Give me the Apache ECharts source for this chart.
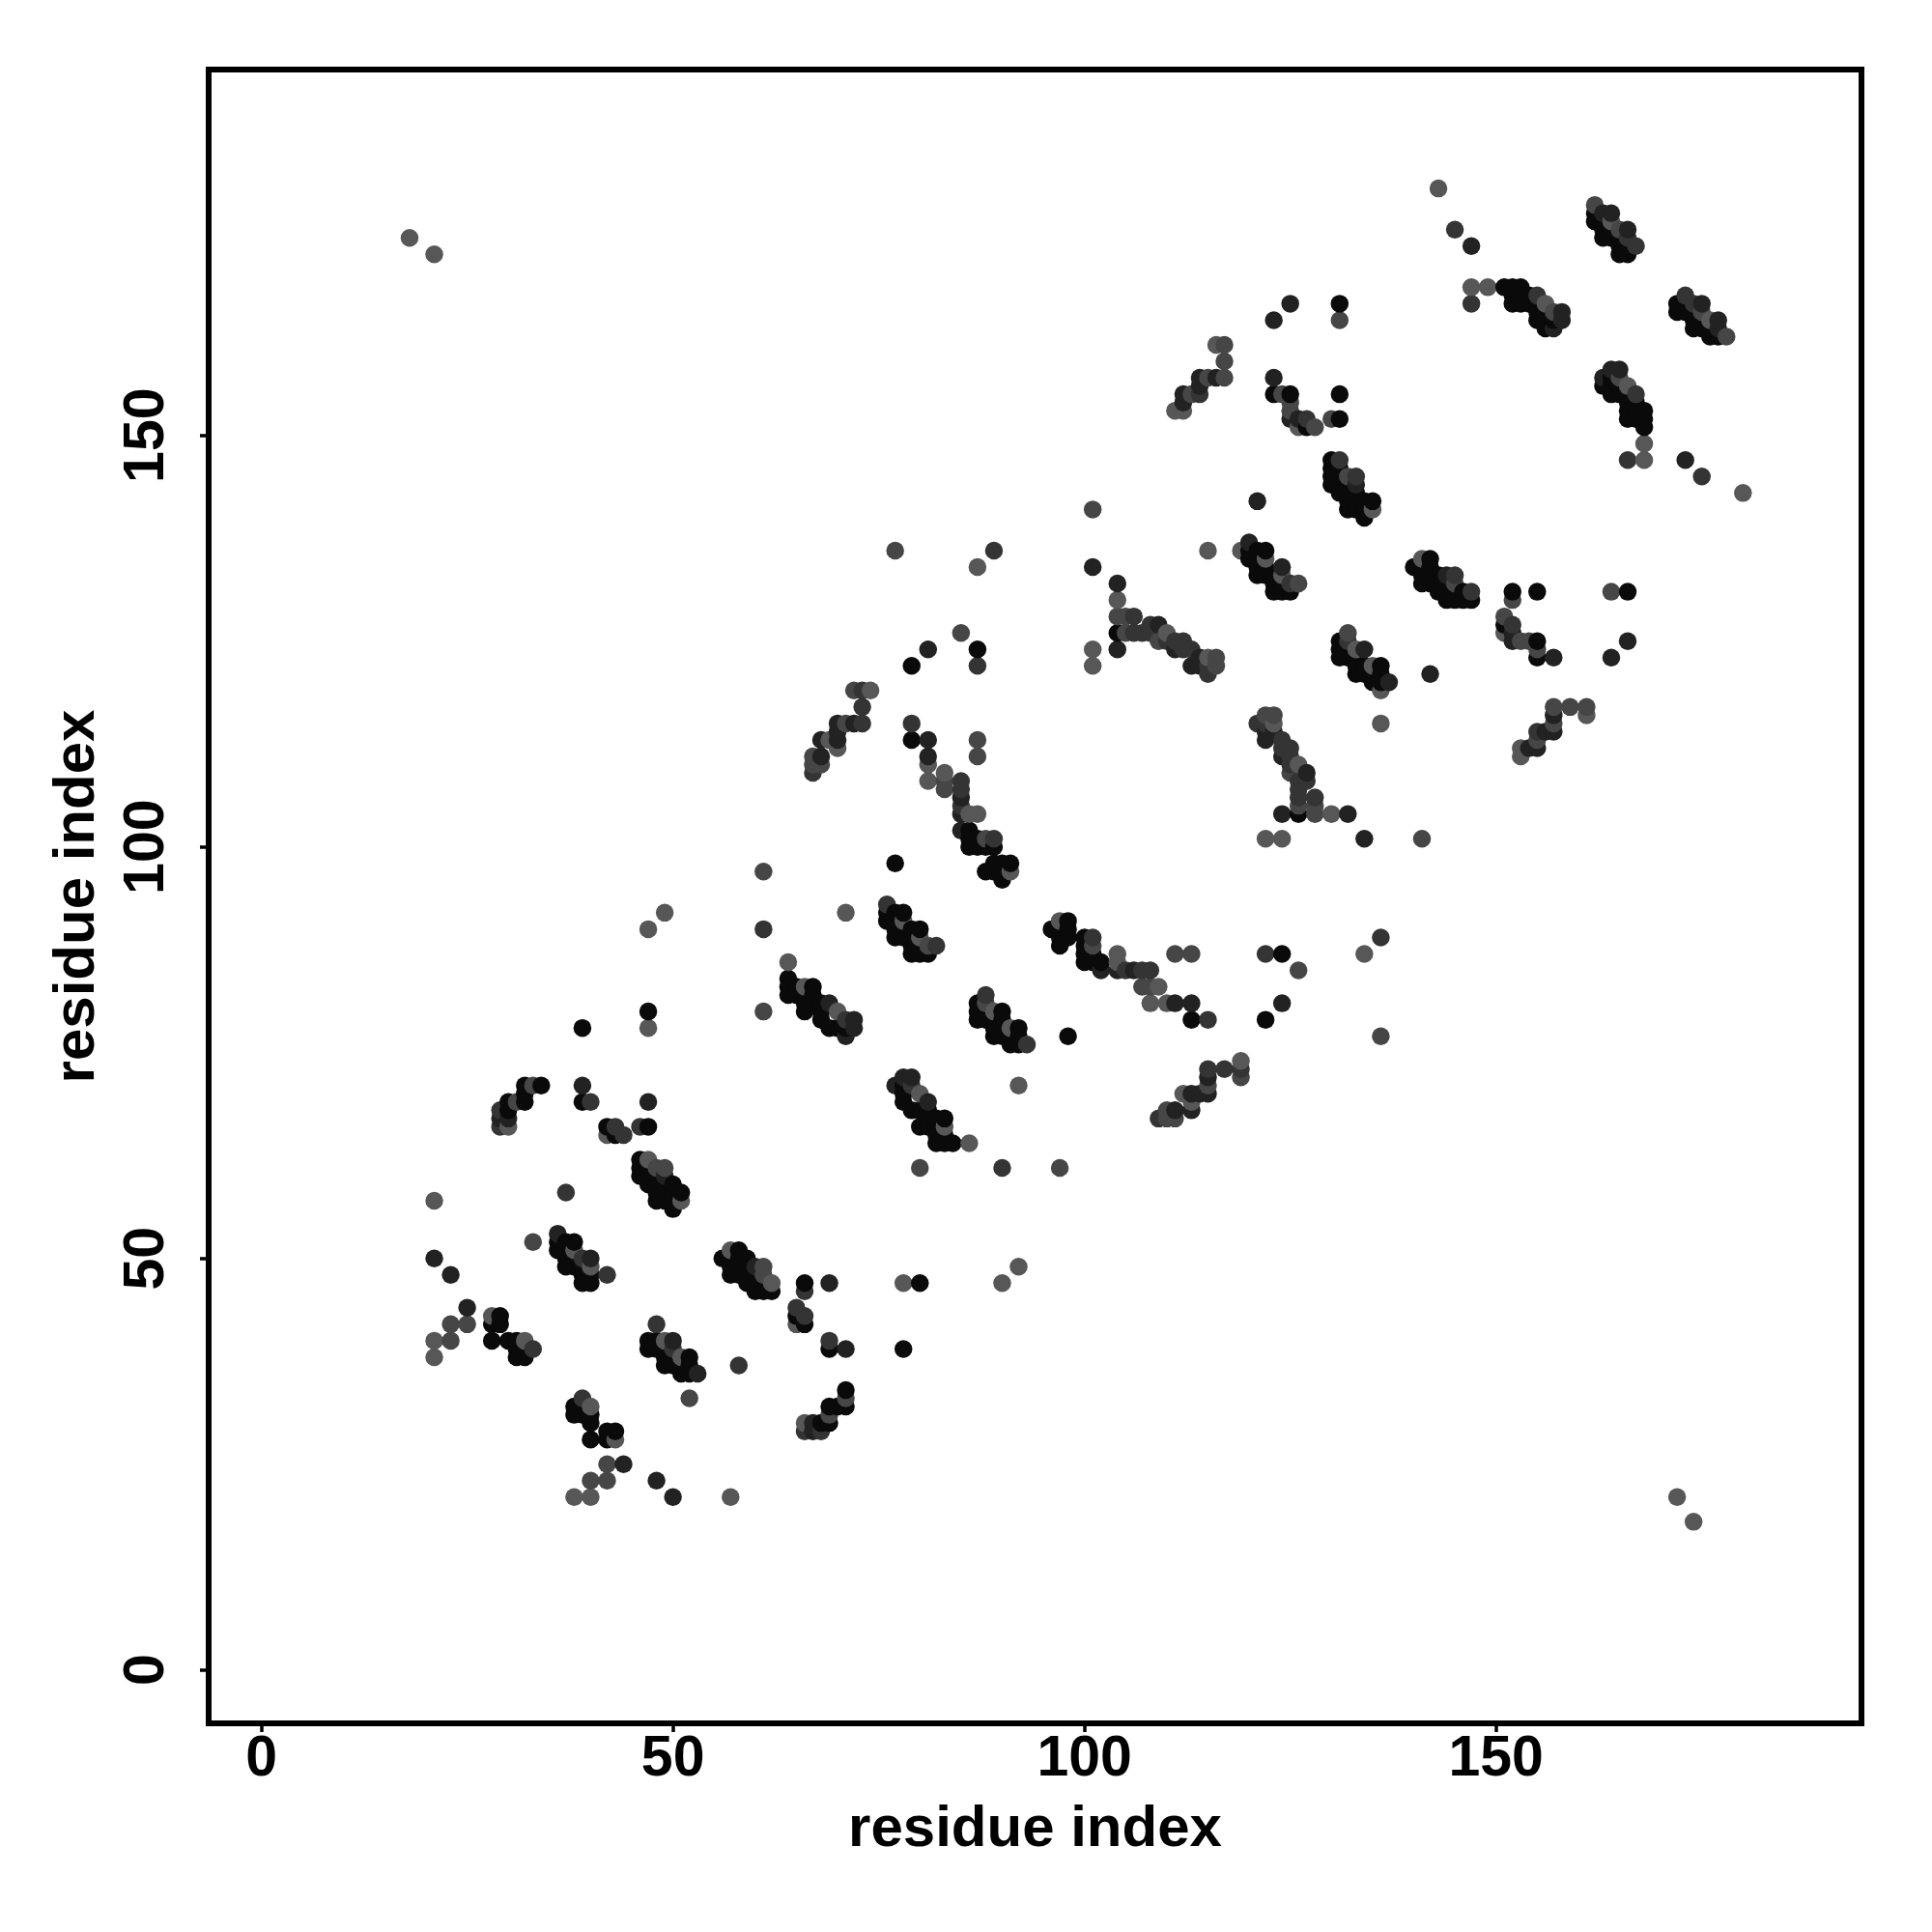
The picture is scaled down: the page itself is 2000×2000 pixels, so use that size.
<!DOCTYPE html>
<html>
<head>
<meta charset="utf-8">
<script src="https://cdn.jsdelivr.net/npm/echarts@6/dist/echarts.min.js"></script>
<style>html,body{margin:0;padding:0;background:#fff}#c{width:2000px;height:2000px}</style>
</head>
<body>
<div id="c"></div>
<script>
const tickValues = [0, 50, 100, 150];
const axisTitle = 'residue index';

const lightUpper = [[18,174],[21,172],[21,38],[21,40],[21,57],[143,180],[32,40],[28,43],[30,66],[42,65],[38,51],[40,49],[47,62],[51,57],[47,78],[47,90],[49,92],[71,92],[64,86],[70,80],[66,83],[78,91],[80,89],[91,97],[86,104],[87,104],[81,108],[81,110],[83,109],[69,113],[70,112],[74,119],[87,134],[101,122],[101,124],[104,130],[115,136],[110,126],[115,123],[119,136],[122,135],[124,133],[135,141],[111,153],[112,153],[116,161],[126,151],[147,168],[149,168],[156,166],[164,176]];
const lightLower = [[174,18],[172,21],[38,21],[40,21],[57,21],[180,143],[40,32],[43,28],[66,30],[65,42],[51,38],[49,40],[62,47],[57,51],[78,47],[90,47],[92,49],[92,71],[86,64],[80,70],[83,66],[91,78],[89,80],[97,91],[104,86],[104,87],[108,81],[110,81],[109,83],[113,69],[112,70],[119,74],[134,87],[122,101],[124,101],[130,104],[136,115],[126,110],[123,115],[136,119],[135,122],[133,124],[141,135],[153,111],[153,112],[161,116],[151,126],[168,147],[168,149],[166,156],[176,164]];

const midUpper = [[23,40],[23,42],[25,42],[33,52],[61,97],[61,80],[77,136],[85,126],[101,141],[48,61],[49,61],[31,69],[33,71],[67,110],[67,111],[68,110],[72,119],[71,115],[81,88],[83,107],[83,108],[88,101],[87,111],[87,113],[104,128],[105,128],[105,126],[109,125],[116,123],[116,122],[126,132],[132,145],[113,155],[115,157],[117,157],[117,159],[117,161],[125,153],[125,154],[124,155],[128,151],[130,152],[131,164],[157,165],[162,178],[165,175]];
const midLower = [[40,23],[42,23],[42,25],[52,33],[97,61],[80,61],[136,77],[126,85],[141,101],[61,48],[61,49],[69,31],[71,33],[110,67],[111,67],[110,68],[119,72],[115,71],[88,81],[107,83],[108,83],[101,88],[111,87],[113,87],[128,104],[128,105],[126,105],[125,109],[123,116],[122,116],[132,126],[145,132],[155,113],[157,115],[157,117],[159,117],[161,117],[153,125],[154,125],[155,124],[151,128],[152,130],[164,131],[165,157],[178,162],[175,165]];

const darkUpper = [[33,39],[29,66],[29,68],[37,58],[39,50],[42,48],[40,69],[43,66],[44,65],[46,66],[61,90],[71,79],[76,93],[82,88],[79,115],[85,105],[85,107],[85,108],[89,101],[89,136],[87,122],[73,115],[73,117],[73,119],[67,109],[106,128],[106,126],[107,126],[108,126],[108,127],[110,125],[111,125],[112,125],[112,124],[113,124],[115,121],[115,122],[125,132],[131,147],[133,145],[127,152],[166,174],[167,173],[147,166],[114,155],[155,167],[145,175]];
const darkLower = [[39,33],[66,29],[68,29],[58,37],[50,39],[48,42],[69,40],[66,43],[65,44],[66,46],[90,61],[79,71],[93,76],[88,82],[115,79],[105,85],[107,85],[108,85],[101,89],[136,89],[122,87],[115,73],[117,73],[119,73],[109,67],[128,106],[126,106],[126,107],[126,108],[127,108],[125,110],[125,111],[125,112],[124,112],[124,113],[121,115],[122,115],[132,125],[147,131],[145,133],[152,127],[174,166],[173,167],[166,147],[155,114],[167,155],[175,145]];

const deepUpper = [[25,44],[23,48],[21,50],[36,53],[40,50],[39,71],[47,69],[49,60],[29,67],[30,67],[72,78],[71,77],[69,81],[72,79],[85,102],[85,104],[85,106],[81,111],[81,113],[68,111],[68,113],[70,113],[70,114],[70,115],[72,115],[81,124],[101,134],[104,132],[104,124],[109,127],[111,124],[114,123],[113,122],[114,122],[120,137],[124,134],[121,142],[133,144],[114,156],[114,157],[112,155],[112,154],[116,157],[123,157],[125,152],[126,152],[123,164],[125,166],[147,173],[157,163],[158,164],[158,165],[163,177],[164,177],[166,175]];
const deepLower = [[44,25],[48,23],[50,21],[53,36],[50,40],[71,39],[69,47],[60,49],[67,29],[67,30],[78,72],[77,71],[81,69],[79,72],[102,85],[104,85],[106,85],[111,81],[113,81],[111,68],[113,68],[113,70],[114,70],[115,70],[115,72],[124,81],[134,101],[132,104],[124,104],[127,109],[124,111],[123,114],[122,113],[122,114],[137,120],[134,124],[142,121],[144,133],[156,114],[157,114],[155,112],[154,112],[157,116],[157,123],[152,125],[152,126],[164,123],[166,125],[173,147],[163,157],[164,158],[165,158],[177,163],[177,164],[175,166]];

const blackUpper = [[28,40],[28,42],[29,42],[29,43],[30,40],[31,38],[31,39],[31,40],[32,38],[32,39],[30,68],[30,69],[32,69],[32,70],[32,71],[34,71],[36,51],[36,52],[37,51],[37,52],[38,52],[37,50],[38,50],[37,49],[38,49],[39,49],[39,48],[40,48],[39,47],[40,47],[39,69],[42,66],[43,65],[47,66],[39,78],[47,80],[46,60],[46,61],[46,62],[47,59],[47,60],[47,61],[48,57],[48,58],[48,59],[48,60],[49,57],[49,58],[49,59],[50,56],[50,57],[50,58],[50,59],[51,58],[64,82],[64,83],[64,84],[65,82],[65,83],[66,80],[66,81],[66,82],[67,81],[67,82],[67,83],[68,79],[68,80],[68,81],[69,78],[70,78],[71,78],[76,91],[76,92],[77,89],[77,90],[77,91],[77,92],[78,89],[78,90],[78,92],[79,87],[79,88],[79,89],[79,90],[80,87],[80,88],[80,90],[81,87],[79,113],[79,122],[77,98],[86,100],[86,101],[86,102],[87,100],[87,101],[88,100],[89,100],[88,97],[89,97],[89,98],[90,96],[90,97],[90,98],[91,98],[87,124],[104,126],[120,135],[120,136],[121,133],[121,134],[121,135],[121,136],[122,133],[122,134],[122,136],[123,131],[123,132],[123,133],[124,131],[124,132],[125,131],[130,144],[130,145],[130,146],[130,147],[131,143],[131,144],[131,145],[131,146],[132,141],[132,142],[132,143],[132,144],[133,141],[133,142],[133,143],[134,140],[134,141],[134,142],[135,142],[123,155],[125,155],[127,151],[131,152],[131,155],[131,166],[151,168],[152,166],[152,167],[152,168],[153,166],[153,167],[153,168],[154,166],[154,167],[155,164],[155,165],[155,166],[156,163],[156,164],[156,165],[157,164],[162,176],[162,177],[163,174],[163,175],[163,176],[164,174],[164,175],[165,172],[165,173],[165,174],[166,172],[166,173]];
const blackLower = [[40,28],[42,28],[42,29],[43,29],[40,30],[38,31],[39,31],[40,31],[38,32],[39,32],[68,30],[69,30],[69,32],[70,32],[71,32],[71,34],[51,36],[52,36],[51,37],[52,37],[52,38],[50,37],[50,38],[49,37],[49,38],[49,39],[48,39],[48,40],[47,39],[47,40],[69,39],[66,42],[65,43],[66,47],[78,39],[80,47],[60,46],[61,46],[62,46],[59,47],[60,47],[61,47],[57,48],[58,48],[59,48],[60,48],[57,49],[58,49],[59,49],[56,50],[57,50],[58,50],[59,50],[58,51],[82,64],[83,64],[84,64],[82,65],[83,65],[80,66],[81,66],[82,66],[81,67],[82,67],[83,67],[79,68],[80,68],[81,68],[78,69],[78,70],[78,71],[91,76],[92,76],[89,77],[90,77],[91,77],[92,77],[89,78],[90,78],[92,78],[87,79],[88,79],[89,79],[90,79],[87,80],[88,80],[90,80],[87,81],[113,79],[122,79],[98,77],[100,86],[101,86],[102,86],[100,87],[101,87],[100,88],[100,89],[97,88],[97,89],[98,89],[96,90],[97,90],[98,90],[98,91],[124,87],[126,104],[135,120],[136,120],[133,121],[134,121],[135,121],[136,121],[133,122],[134,122],[136,122],[131,123],[132,123],[133,123],[131,124],[132,124],[131,125],[144,130],[145,130],[146,130],[147,130],[143,131],[144,131],[145,131],[146,131],[141,132],[142,132],[143,132],[144,132],[141,133],[142,133],[143,133],[140,134],[141,134],[142,134],[142,135],[155,123],[155,125],[151,127],[152,131],[155,131],[166,131],[168,151],[166,152],[167,152],[168,152],[166,153],[167,153],[168,153],[166,154],[167,154],[164,155],[165,155],[166,155],[163,156],[164,156],[165,156],[164,157],[176,162],[177,162],[174,163],[175,163],[176,163],[174,164],[175,164],[172,165],[173,165],[174,165],[172,166],[173,166]];

const shades = [
  { color: '#575757', points: lightUpper.concat(lightLower) },
  { color: '#464646', points: midUpper.concat(midLower) },
  { color: '#343434', points: darkUpper.concat(darkLower) },
  { color: '#222222', points: deepUpper.concat(deepLower) },
  { color: '#0a0a0a', points: blackUpper.concat(blackLower) }
];

const data = [];
shades.forEach(s => s.points.forEach(p => data.push({ value: p, itemStyle: { color: s.color, opacity: 1 } })));
data.sort((a, b) => a.value[0] - b.value[0] || a.value[1] - b.value[1]);

const font = '"Liberation Sans", Arial, sans-serif';
const labelStyle = { color: '#000', fontFamily: font, fontWeight: 'bold', fontSize: 59 };

function axis(extra, labelExtra) {
  return Object.assign({
    type: 'value',
    name: axisTitle,
    nameLocation: 'middle',
    nameTextStyle: { color: '#000', fontFamily: font, fontWeight: 'bold', fontSize: 60 },
    axisLine: { show: false, onZero: false },
    splitLine: { show: false },
    axisTick: { show: true, customValues: tickValues, length: 9, lineStyle: { color: '#000', width: 3.5 } },
    axisLabel: Object.assign({ show: true, customValues: tickValues, hideOverlap: false }, labelStyle, labelExtra)
  }, extra);
}

const chart = echarts.init(document.getElementById('c'), null, { renderer: 'canvas' });
chart.setOption({
  animation: false,
  backgroundColor: '#fff',
  grid: { show: true, left: 216, top: 72, width: 1711, height: 1712, borderColor: '#000', borderWidth: 6, backgroundColor: 'transparent' },
  xAxis: axis({ min: -6.41, max: 194.4, nameGap: 80 }, { margin: 8 }),
  yAxis: axis({ min: -6.49, max: 194.45, nameGap: 106 }, { rotate: 90, margin: 34 }),
  series: [{
    type: 'scatter',
    symbol: 'circle',
    symbolSize: 18.5,
    progressive: 0,
    silent: true,
    data: data
  }]
});
</script>
</body>
</html>
